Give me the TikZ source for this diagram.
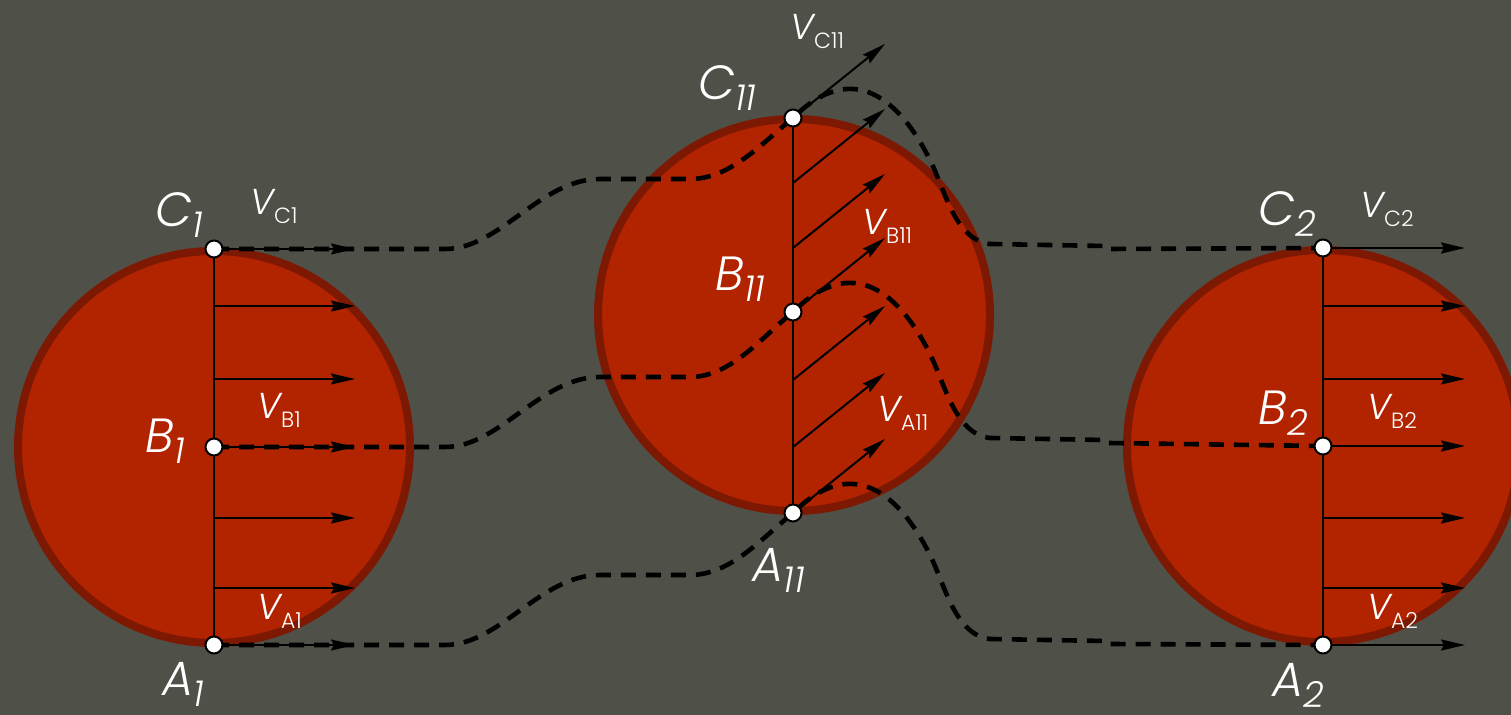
\documentclass[tikz,border=0pt]{standalone}
\usepackage{fontspec}
\setmainfont{Poppins Light}[ItalicFont=Poppins Light Italic]
\definecolor{slate}{RGB}{79,80,72}
\definecolor{discred}{RGB}{178,36,0}
\definecolor{rimred}{RGB}{125,25,3}
\usetikzlibrary{arrows.meta}
\newcommand{\ptname}[2]{\fontsize{24}{24}\selectfont\itshape #1\raisebox{-5.5pt}{\fontsize{18}{18}\selectfont #2}}
\newcommand{\velname}[1]{\fontsize{18}{18}\selectfont\itshape V\raisebox{-4.5pt}{\fontsize{11}{11}\selectfont\upshape #1}}

\begin{document}
\begin{tikzpicture}[x=0.5pt,y=-0.5pt,
    disc/.style={fill=discred, draw=rimred, line width=4pt},
    vel/.style={-{Stealth[length=12pt,width=5.5pt,inset=1.5pt]}, line width=1pt},
    trace/.style={dash pattern=on 7.5pt off 5pt, line width=2.3pt},
    pt/.style={circle, draw, fill=white, line width=1pt, minimum size=8.5pt, inner sep=0pt},
    lab/.style={text=white, anchor=base west, inner sep=0pt}]
  % Background
  \fill[slate] (0,0) rectangle (1511,715);
  \useasboundingbox (0,0) rectangle (1511,715);
  % Points of the three positions
  \coordinate (C1) at (214,249);
  \coordinate (B1) at (214,447);
  \coordinate (A1) at (214,645);
  \coordinate (C11) at (793,118);
  \coordinate (B11) at (793,312);
  \coordinate (A11) at (793,513);
  \coordinate (C2) at (1323,248);
  \coordinate (B2) at (1323,446);
  \coordinate (A2) at (1323,645);
  % Discs
  \draw[disc] (214,447) circle (196);
  \draw[disc] (794,315) circle (196);
  \draw[disc] (1323,446) circle (196);
  % Radii
  \draw[line width=1pt] (C1) -- (A1);
  \draw[line width=1pt] (C11) -- (A11);
  \draw[line width=1pt] (C2) -- (A2);
  % Velocity profiles
  \foreach \y in {249,306,379,447,518,588,645}
    \draw[vel] (214,\y) -- ++(141,0);
  \foreach \y in {118,183,248,312,380,447,513}
    \draw[vel] (793,\y) -- ++(92,-74);
  \foreach \y in {248,306,379,446,518,588,645}
    \draw[vel] (1323,\y) -- ++(142,0);
  % Trajectories of the points
  \foreach \p in {C,B,A}
    \draw[trace] (\p1) -- ++(231,0) .. controls +(55,0) and +(-60,0) .. ++(155,-70)
      -- ++(90,0) .. controls +(40,0) and +(-33,27) .. (\p11)
      .. controls +(60,-60) and +(-30,-60) .. ++(137,42)
      .. controls +(15,30) and +(-35,-4) .. ++(60,84)
      -- ++(115,2) -- ++(3,3) -- (\p2);
  % Point marks
  \foreach \p in {C1,B1,A1,C11,B11,A11,C2,B2,A2}
    \node[pt] (dot\p) at (\p) {};
  % Labels
  \node[lab] (labC1) at (155,227) {\ptname{C}{1}};
  \node[lab] (labB1) at (145,453) {\ptname{B}{1}};
  \node[lab] (labA1) at (162,696) {\ptname{A}{1}};
  \node[lab] (labC11) at (698,100) {\ptname{C}{11}};
  \node[lab] (labB11) at (715,291) {\ptname{B}{11}};
  \node[lab] (labA11) at (752,582) {\ptname{A}{11}};
  \node[lab] (labC2) at (1258,226) {\ptname{C}{2}};
  \node[lab] (labB2) at (1258,425) {\ptname{B}{2}};
  \node[lab] (labA2) at (1272,697) {\ptname{A}{2}};
  \node[lab] (velC1) at (250,215) {\velname{C1}};
  \node[lab] (velB1) at (257,419) {\velname{B1}};
  \node[lab] (velA1) at (257,620) {\velname{A1}};
  \node[lab] (velC11) at (790,40) {\velname{C11}};
  \node[lab] (velB11) at (862,235) {\velname{B11}};
  \node[lab] (velA11) at (877,422) {\velname{A11}};
  \node[lab] (velC2) at (1360,218) {\velname{C2}};
  \node[lab] (velB2) at (1367,420) {\velname{B2}};
  \node[lab] (velA2) at (1367,620) {\velname{A2}};
\end{tikzpicture}
\end{document}
